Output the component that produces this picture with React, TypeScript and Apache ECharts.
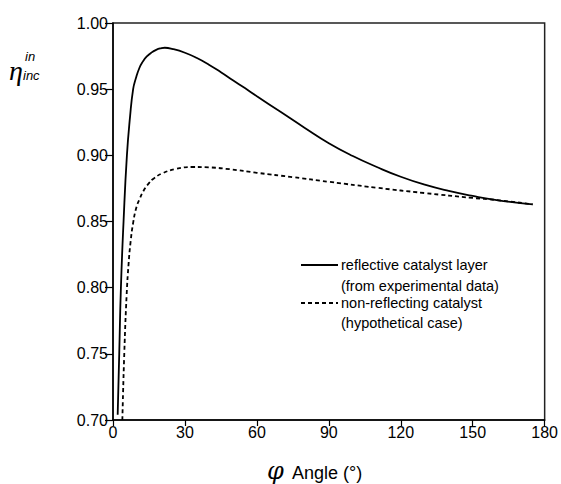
import React, { useEffect, useRef } from 'react';
import * as echarts from 'echarts';

const reflectiveAngles = [1.95, 2.6, 3.3, 4.4, 5.8, 7.1, 8.4, 9.5, 11, 12.5, 14, 16, 18, 20, 21.6, 25, 30, 35, 40, 45, 50, 55, 60, 70, 80, 90, 100, 110, 120, 130, 140, 150, 160, 175];
const reflectiveValues = [0.704, 0.75, 0.8, 0.85, 0.9, 0.929, 0.95, 0.958, 0.966, 0.971, 0.9745, 0.9776, 0.9797, 0.9809, 0.9813, 0.9803, 0.9775, 0.9735, 0.9685, 0.9628, 0.9568, 0.9508, 0.9447, 0.9327, 0.9207, 0.9092, 0.8995, 0.8912, 0.8838, 0.8778, 0.8731, 0.8693, 0.8662, 0.863];

const hypotheticalAngles = [3.9, 4.7, 5.7, 6.5, 7.3, 8.4, 9.8, 11, 12.6, 15, 17, 20.8, 26.5, 33, 40, 48.6, 60, 75, 90, 110, 130, 150, 160, 175];
const hypotheticalValues = [0.7, 0.75, 0.795, 0.818, 0.834, 0.849, 0.861, 0.8665, 0.8728, 0.879, 0.8825, 0.8866, 0.8898, 0.8912, 0.8909, 0.8895, 0.8868, 0.8835, 0.88, 0.8755, 0.8715, 0.8678, 0.8662, 0.863];

const legendNames = ['reflective catalyst layer', '(from experimental data)', 'non-reflecting catalyst', '(hypothetical case)'];

const FONT = '"Liberation Sans", Arial, Helvetica, sans-serif';

export default function App() {
  const ref = useRef<HTMLDivElement>(null);
  useEffect(() => {
    if (!ref.current) return;
    const chart = echarts.init(ref.current, null, { renderer: 'svg' });
    const solid = reflectiveAngles.map((a, i) => [a, reflectiveValues[i]]);
    const dashed = hypotheticalAngles.map((a, i) => [a, hypotheticalValues[i]]);
    chart.setOption({
      animation: false,
      backgroundColor: '#fff',
      textStyle: { fontFamily: FONT },
      grid: { left: 113, right: 15, top: 23, bottom: 64, show: true, borderColor: '#222', borderWidth: 1.5, backgroundColor: 'transparent' },
      xAxis: {
        type: 'value', min: 0, max: 180, interval: 30,
        axisLine: { show: true, lineStyle: { color: '#000', width: 1.5 } },
        axisTick: { show: true, length: 6, lineStyle: { color: '#000', width: 1.2 } },
        axisLabel: { color: '#000', fontSize: 16, margin: 4, fontFamily: FONT },
        splitLine: { show: false },
      },
      yAxis: {
        type: 'value', min: 0.7, max: 1.0, interval: 0.05,
        axisLine: { show: true, lineStyle: { color: '#000', width: 1.5 } },
        axisTick: { show: true, length: 8, lineStyle: { color: '#000', width: 1.2 } },
        axisLabel: { color: '#000', fontSize: 16, margin: 5, fontFamily: FONT, formatter: (v: number) => v.toFixed(2) },
        splitLine: { show: false },
      },
      series: [
        { type: 'line', name: legendNames[0], data: solid, symbol: 'none', smooth: 0.5, lineStyle: { color: '#000', width: 1.8 }, clip: true },
        { type: 'line', name: legendNames[2], data: dashed, symbol: 'none', smooth: 0.5, lineStyle: { color: '#000', width: 1.8, type: [4, 3] }, clip: true },
      ],
      graphic: [
        { type: 'text', x: 9, y: 70, style: { text: 'η', font: 'italic 28px "Liberation Serif", "Times New Roman", serif', fill: '#000', verticalAlign: 'middle' } },
        { type: 'text', x: 25, y: 56.5, style: { text: 'in', font: 'italic 13px ' + FONT, fill: '#000', verticalAlign: 'middle' } },
        { type: 'text', x: 23, y: 75.5, style: { text: 'inc', font: 'italic 13px ' + FONT, fill: '#000', verticalAlign: 'middle' } },
        { type: 'text', x: 267, y: 470.5, style: { text: 'φ', font: 'italic 24px "DejaVu Serif", "Liberation Serif", serif', fill: '#000', verticalAlign: 'middle' } },
        { type: 'text', x: 292, y: 473, style: { text: 'Angle (°)', font: '18px ' + FONT, fill: '#000', verticalAlign: 'middle' } },
        { type: 'line', shape: { x1: 301, y1: 265, x2: 338, y2: 265 }, style: { stroke: '#000', lineWidth: 1.8 } },
        { type: 'line', shape: { x1: 301, y1: 303, x2: 338, y2: 303 }, style: { stroke: '#000', lineWidth: 1.8, lineDash: [4, 3] } },
        { type: 'text', x: 341, y: 265, style: { text: legendNames[0], font: '14.5px ' + FONT, fill: '#000', verticalAlign: 'middle' } },
        { type: 'text', x: 341, y: 286, style: { text: legendNames[1], font: '14.5px ' + FONT, fill: '#000', verticalAlign: 'middle' } },
        { type: 'text', x: 341, y: 303, style: { text: legendNames[2], font: '14.5px ' + FONT, fill: '#000', verticalAlign: 'middle' } },
        { type: 'text', x: 341, y: 323, style: { text: legendNames[3], font: '14.5px ' + FONT, fill: '#000', verticalAlign: 'middle' } },
      ],
    });
    return () => chart.dispose();
  }, []);
  return <div ref={ref} style={{ width: 561, height: 484, position: 'absolute', left: 0, top: 0 }} />;
}
